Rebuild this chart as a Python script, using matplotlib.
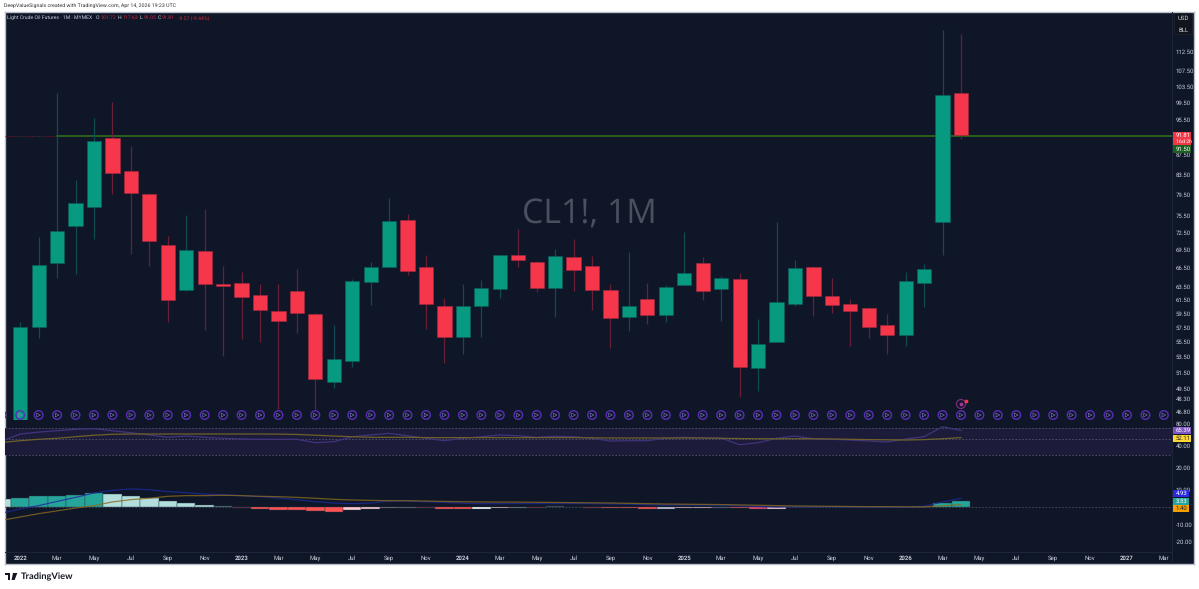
import numpy as np
import matplotlib
matplotlib.use("Agg")
import matplotlib.pyplot as plt
from matplotlib.patches import Rectangle, Polygon, FancyBboxPatch
from matplotlib.ticker import FixedLocator, FixedFormatter, NullLocator

# ---------- data ----------
opens = [45.87,57.51,67.21,73.66,77.05,91.29,84.11,79.58,70.32,62.98,69.31,63.90,64.01,62.21,59.79,62.87,59.44,50.29,52.93,64.26,66.61,
         74.64,66.57,60.51,56.20,60.55,63.18,68.53,67.43,63.33,68.30,66.82,62.93,59.00,61.65,59.25,63.72,67.21,63.09,64.69,52.10,55.48,60.91,
         66.61,61.99,60.86,60.27,57.87,56.47,64.00,74.26,101.72]
highs = [58.25,71.71,101.80,82.35,95.79,99.59,89.47,79.72,71.84,75.61,76.67,66.82,65.81,63.85,63.95,66.29,59.50,57.83,64.64,67.48,78.87,
         75.74,68.63,61.71,63.95,64.53,68.58,73.13,67.54,69.55,71.37,68.42,63.85,69.09,64.11,63.72,72.49,68.26,65.16,65.57,58.64,74.34,67.76,
         66.82,64.80,61.56,60.42,59.44,65.74,67.10,118.70,117.63]
lows = [45.87,55.98,64.80,65.49,71.37,79.58,68.70,66.82,58.25,62.87,57.13,53.62,55.93,55.48,47.15,56.75,47.08,49.55,52.24,60.66,66.61,
        65.27,57.31,52.68,53.93,56.12,61.75,66.66,62.63,58.97,62.83,59.94,54.72,56.99,57.93,58.30,63.72,61.46,58.35,48.48,49.27,55.48,60.61,
        59.15,59.58,54.94,56.07,53.93,54.90,60.42,68.58,91.05]
closes = [57.51,66.88,72.78,77.80,90.49,83.82,79.72,71.02,61.41,69.43,63.95,63.63,61.95,59.94,58.40,59.50,50.73,53.19,64.37,66.66,74.57,
          66.02,60.80,56.20,60.51,63.24,68.58,67.81,63.33,68.36,66.13,62.93,58.78,60.51,59.25,63.49,65.65,62.87,64.80,52.15,55.25,61.12,66.50,
          62.04,60.76,59.83,57.51,56.47,64.37,66.29,101.30,91.81]

price_ticks = [112.5,107.5,103.5,99.5,95.5,87.5,83.5,79.5,75.5,72.5,69.5,66.5,63.5,61.5,59.5,57.5,55.5,53.5,51.5,49.5,48.3,46.8]
level_price = 91.70

# indicators begin one month before the first candle
rsi = [46.8,58.4,61.9,64.8,67.8,69.0,64.8,60.8,56.6,52.6,54.8,52.6,51.0,49.9,49.4,49.4,49.4,44.4,45.8,53.6,56.6,59.6,
       55.3,51.0,47.3,51.0,53.6,56.6,55.3,52.6,54.4,53.6,51.0,46.8,47.3,47.3,51.0,52.6,51.5,51.5,41.7,44.4,51.0,54.8,
       50.3,49.4,48.3,46.8,45.4,49.9,53.6,73.4,65.39]
rsi_ma = [44.7,47.3,49.4,51.0,53.6,56.2,57.9,58.4,58.4,58.4,58.4,58.4,58.4,58.4,58.4,58.2,57.6,56.2,54.8,53.6,52.6,52.6,
          52.6,52.1,52.1,52.1,52.1,52.1,52.1,52.1,52.1,52.1,51.8,51.5,51.5,51.5,51.5,51.5,51.5,51.0,50.6,50.3,50.3,50.3,
          50.3,49.9,49.4,49.0,48.6,48.3,48.9,50.3,52.11]
hist = [4.76,5.3,6.1,6.5,7.0,7.8,7.2,6.3,5.0,3.2,2.5,1.1,0.8,-0.8,-1.1,-1.5,-1.9,-2.3,-2.7,-1.9,-1.1,-0.6,
        -0.4,-0.5,-1.0,-1.0,-1.0,-0.8,-0.5,-0.4,0.3,-0.2,-0.4,-0.8,-0.8,-0.9,-0.9,-0.6,-0.6,-0.3,-0.8,-1.1,-0.9,-0.2,
        -0.2,-0.1,-0.1,-0.2,-0.2,0.1,0.1,2.5,3.53]
hist_colors = ["#b2dfdb"]+["#26a69a"]*5+["#b2dfdb"]*6+["#5a7a80"]+["#7a2a3a"]+["#ff5252"]*5+["#ffcdd2"]*2+["#8a7f88"]+\
    ["#7a7078","#7a2a3a","#ff5252","#ff5252","#ffffff","#ffcdd2","#8a8a96","#7a2a3a","#4a4f60","#5a2a3a","#a03040","#ff5252","#ff5252","#ff5252",
     "#c8c8dc","#ffcdd2","#ffcdd2","#6a6a90","#ff5252","#f04a70","#ffcdd2","#6a6a70","#8a8585","#6a3a40","#6a3a40","#c04040","#c04040","#3a4a6a","#3a6a6a","#26a69a","#26a69a"]
macd = [-3.5,-1.1,0.8,3.2,5.5,8.0,9.5,10.3,9.9,8.8,8.2,7.4,7.0,6.5,5.9,5.1,4.2,3.0,2.3,1.9,2.3,3.4,
        3.4,3.0,2.6,2.2,1.9,1.9,2.0,2.0,2.0,2.0,1.9,1.8,1.6,1.3,1.1,1.1,1.1,1.0,0.7,0.3,-0.1,0.1,
        0.1,0.1,0.0,-0.1,-0.2,0.0,0.4,2.9,4.93]
signal = [-7.6,-5.7,-3.8,-2.2,-0.6,0.8,2.9,4.2,5.0,6.1,6.5,6.5,6.7,6.5,6.1,5.9,5.5,5.0,4.4,4.0,3.8,3.6,
          3.6,3.4,3.2,3.0,2.9,2.8,2.8,2.7,2.6,2.5,2.4,2.3,2.1,1.9,1.7,1.6,1.5,1.4,1.2,1.0,0.8,0.6,
          0.5,0.4,0.3,0.2,0.2,0.1,0.1,0.7,1.40]

month_labels = ["2022","Mar","May","Jul","Sep","Nov","2023","Mar","May","Jul","Sep","Nov","2024","Mar","May","Jul","Sep","Nov",
                "2025","Mar","May","Jul","Sep","Nov","2026","Mar","May","Jul","Sep","Nov","2027","Mar"]

# ---------- layout ----------
W, H = 1199, 589
FONT = "Roboto"
BG = "#0e1628"
TXT = "#c9ced8"
FS = 4.3
plt.rcParams["font.family"] = [FONT, "DejaVu Sans"]
plt.rcParams["text.hinting"] = "no_hinting"
fig = plt.figure(figsize=(W/100, H/100), dpi=100, facecolor="white")

def box(x0, ytop, x1, ybot):
    return [x0/W, 1-ybot/H, (x1-x0)/W, (ybot-ytop)/H]
def ptxt(x, y, s, **kw):
    kw.setdefault("va", "center"); kw.setdefault("ha", "left")
    return fig.text(x/W, 1-y/H, s, **kw)

back = fig.add_axes(box(4.5, 11.5, 1194, 563.5), facecolor=BG, zorder=0)
back.set_xticks([]); back.set_yticks([])
for s in back.spines.values():
    s.set_color("#b9bec8"); s.set_linewidth(1.0)

XL = (-0.84, 62.44)
ax = fig.add_axes(box(4.7, 12, 1172, 420), facecolor="none", zorder=2)
ax2 = fig.add_axes(box(4.7, 420, 1172, 480), facecolor="none", zorder=2)
ax3 = fig.add_axes(box(4.7, 480, 1172, 552), facecolor="none", zorder=2)
ax4 = fig.add_axes(box(4.7, 552, 1172, 563), facecolor="none", zorder=2)
for a in (ax, ax2, ax3, ax4):
    a.set_xlim(*XL)
    for k, s in a.spines.items():
        s.set_visible(False)
    a.spines["right"].set_visible(True)
    a.spines["right"].set_color("#1d2638")
    a.spines["right"].set_linewidth(0.8)
    a.yaxis.tick_right()
    a.tick_params(axis="y", length=0, pad=2.6, labelsize=FS, labelcolor=TXT)
    a.xaxis.set_major_locator(NullLocator())

# ---------- price pane ----------
ax.set_yscale("log")
ax.set_ylim(45.87, 124.03)
ax.yaxis.set_major_locator(FixedLocator(price_ticks))
ax.yaxis.set_major_formatter(FixedFormatter([f"{v:.2f}" for v in price_ticks]))
ax.yaxis.set_minor_locator(NullLocator())

x = np.arange(len(closes))
o, h, l, c = map(np.array, (opens, highs, lows, closes))
up = c >= o
UPC, DNC, UPW, DNW = "#089981", "#f6364a", "#0f4b50", "#6a1f36"
ax.vlines(x[up], l[up], h[up], color=UPW, lw=0.9, zorder=3)
ax.vlines(x[~up], l[~up], h[~up], color=DNW, lw=0.9, zorder=3)
ax.bar(x[up], c[up]-o[up], bottom=o[up], width=0.77, color=UPC, edgecolor="#0b5f5c", lw=0.4, zorder=4)
ax.bar(x[~up], o[~up]-c[~up], bottom=c[~up], width=0.77, color=DNC, edgecolor="#a8283c", lw=0.4, zorder=4)

ax.plot([XL[0], 2], [level_price]*2, color="#5a1f30", lw=0.8, ls=(0, (1, 1)), zorder=2)
ax.plot([2, XL[1]], [level_price]*2, color="#2a5f1e", lw=1.4, zorder=2)

ax.text(589/W, 1-215/H, "CL1!, 1M", transform=fig.transFigure, ha="center", va="center",
        fontsize=24.4, color="#4a505e", family="Open Sans", zorder=1)

# event icons along the bottom of the price pane
ix = np.arange(-1, 63)
tr = ax.get_xaxis_transform()
ax.scatter(ix, [0.0122]*len(ix), s=38, facecolor="none", edgecolor="#5a2fb5", lw=1.0, transform=tr, zorder=6)
ax.scatter(ix, [0.0122]*len(ix), s=7, marker=">", facecolor="none", edgecolor="#8f8fd8", lw=0.35, transform=tr, zorder=6)
ax.scatter([51], [0.0392], s=42, facecolor="none", edgecolor="#7a2a78", lw=0.9, transform=tr, zorder=6)
ax.scatter([51], [0.0392], s=3, color="#9a3a98", transform=tr, zorder=6)
ax.scatter([51.25], [0.0465], s=3, color="#f23645", transform=tr, zorder=7)

# ---------- RSI pane ----------
ix2 = np.arange(-1, 52)
ax2.set_yscale("log")
ax2.set_ylim(13.7, 90.8)
ax2.yaxis.set_major_locator(FixedLocator([80, 40, 20]))
ax2.yaxis.set_major_formatter(FixedFormatter(["80.00", "40.00", "20.00"]))
ax2.yaxis.set_minor_locator(NullLocator())
ax2.axhspan(30, 70, color="#1c1b3a", lw=0, zorder=1)
for v in (70, 50, 30):
    ax2.axhline(v, color="#55566f", lw=0.6, ls=(0, (2, 2)), zorder=2)
ax2.plot(ix2, rsi, color="#41347c", lw=0.9, zorder=3)
ax2.plot(ix2, rsi_ma, color="#6f6128", lw=0.9, zorder=4)

# ---------- MACD pane ----------
ax3.set_ylim(-25.7, 15.43)
ax3.yaxis.set_major_locator(FixedLocator([10, -10, -20]))
ax3.yaxis.set_major_formatter(FixedFormatter(["10.00", "-10.00", "-20.00"]))
ax3.axhline(0, color="#4c5266", lw=0.6, ls=(0, (2, 2)), zorder=1)
ax3.bar(ix2, hist, width=1.0, color=hist_colors, edgecolor="#2a3a48", lw=0.3, zorder=2)
ax3.plot(ix2, macd, color="#1f2a9a", lw=0.9, alpha=0.8, zorder=3)
ax3.plot(ix2, signal, color="#8a6a1e", lw=0.9, alpha=0.8, zorder=4)

# ---------- time axis ----------
ax4.set_ylim(0, 1)
ax4.yaxis.set_major_locator(NullLocator())
ax4.spines["top"].set_visible(True)
ax4.spines["top"].set_color("#1d2638")
ax4.spines["top"].set_linewidth(0.8)
ax4.set_xticks(np.arange(0, 63, 2))
ax4.set_xticklabels(month_labels)
ax4.tick_params(axis="x", length=0, pad=-5.8, labelsize=FS, labelcolor=TXT)
for t in ax4.get_xticklabels():
    if t.get_text().isdigit():
        t.set_fontweight("bold")

# ---------- text and badges on the price scale ----------
def badge(y0, y1, col, label, tc="white", xr=1191):
    fig.add_artist(Rectangle((1172.5/W, 1-y1/H), (xr-1172.5)/W, (y1-y0)/H, transform=fig.transFigure, color=col, lw=0, zorder=5))
    return ptxt(1176, (y0+y1)/2, label, fontsize=FS, color=tc, zorder=6)

badge(132.3, 145, "#f23645", "")
ptxt(1176, 135.5, "91.81", fontsize=FS, color="white", zorder=6)
ptxt(1175.5, 141.5, "16d 2h", fontsize=3.8, color="white", zorder=6)
badge(145, 153, "#1b5e20", "91.50")
badge(427, 434.3, "#7e57c2", "65.39")
badge(434.8, 442, "#fdd835", "52.11", tc="#222222")
badge(490, 497.3, "#2a2ae0", "4.93", xr=1189)
badge(497.6, 505, "#26a69a", "3.53", xr=1189)
badge(505.2, 512.3, "#f5a000", "1.40", tc="#222222", xr=1189)

fig.add_artist(FancyBboxPatch((1174.5/W, 1-34.5/H), 18/W, 21/H, transform=fig.transFigure,
                              boxstyle="round,pad=0,rounding_size=0.002", fc="#11141c", ec="#22262f", lw=0.5, zorder=5))
ptxt(1183.5, 18.7, "USD", fontsize=FS, color=TXT, ha="center", zorder=6)
ptxt(1183.5, 30.3, "BLL", fontsize=FS, color=TXT, ha="center", zorder=6)

# header
ptxt(4, 6, "DeepValueSignals created with TradingView.com, Apr 14, 2026 19:23 UTC", fontsize=3.75, color="#333333")
ptxt(7.3, 18, "Light Crude Oil Futures · 1M · MYMEX", fontsize=3.7, color=TXT, zorder=6)
RED = "#c42a40"
for xp, lab, val in [(96, "O", "101.72"), (118, "H", "117.63"), (140, "L", "91.05"), (158, "C", "91.81")]:
    ptxt(xp, 18, lab, fontsize=3.7, color=TXT, zorder=6)
    ptxt(xp+4.2, 18, val, fontsize=3.7, color=RED, zorder=6)
ptxt(178, 18, "-9.57 (-9.44%)", fontsize=3.7, color=RED, zorder=6)

# TradingView logo
def px(pts):
    return [(a/W, 1-b/H) for a, b in pts]
for pts in ([(5.3, 573), (10.5, 573), (10.5, 580), (8, 580), (8, 575.4), (5.3, 575.4)],
            [(13, 573), (17.3, 573), (14.6, 580), (11.6, 580)]):
    fig.add_artist(Polygon(px(pts), closed=True, transform=fig.transFigure, color="#131722", lw=0))
ptxt(21, 576.5, "TradingView", fontsize=6.7, color="#131722", family="Lato", fontweight="bold")

fig.savefig("out.png", dpi=100, facecolor="white")
